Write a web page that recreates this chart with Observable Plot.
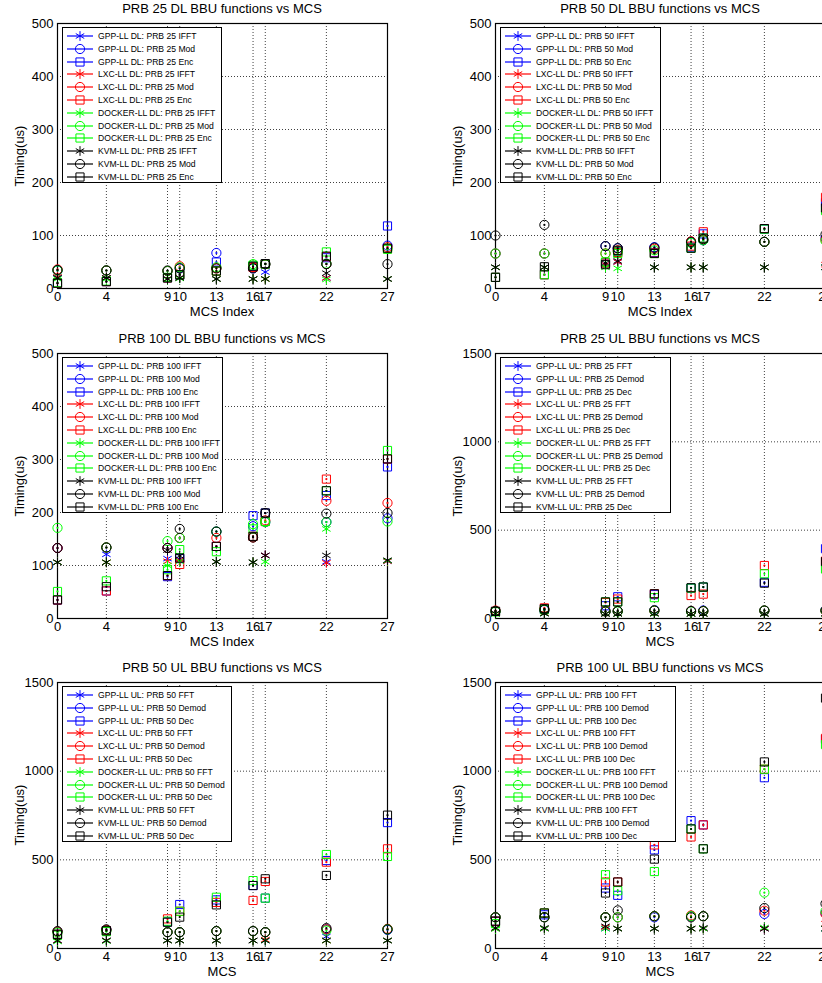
<!DOCTYPE html>
<html>
<head>
<meta charset="utf-8">
<script src="https://cdn.jsdelivr.net/npm/d3@7"></script>
<script src="https://cdn.jsdelivr.net/npm/@observablehq/plot@0.6"></script>
<style>
  html, body { margin: 0; padding: 0; background: #fff; overflow: hidden; }
  #root { position: relative; width: 822px; height: 983px; overflow: hidden; background: #fff;
          font-family: "Liberation Sans", Arial, Helvetica, sans-serif; color: #000; }
  .abs { position: absolute; white-space: nowrap; }
  .legend { position: absolute; border: 1px solid #000; background: #fff; box-sizing: border-box; }
  .lrow { position: absolute; left: 4px; display: flex; align-items: center; height: 12px; font-size: 8.6px; white-space: nowrap; }
  .lrow svg { width: 26px; height: 12px; margin-right: 5px; overflow: visible; flex: none; }
</style>
</head>
<body>
<div id="root"></div>
<script>
// ---------- data ----------
const mcs = [0, 4, 9, 10, 13, 16, 17, 22, 27];
const platforms = ["GPP", "LXC", "DOCKER", "KVM"];
const platformColors = ["#0000ff", "#ff0000", "#00ff00", "#000000"];
const dlFunctions = ["IFFT", "Mod", "Enc"];
const ulFunctions = ["FFT", "Demod", "Dec"];
const dlTicks = [0, 100, 200, 300, 400, 500];
const ulTicks = [0, 500, 1000, 1500];

// rows: GPP, LXC, DOCKER, KVM ; columns follow mcs
const dl25_ifft = [[20,20,18,20,18,18,31,20,18],[22,20,18,20,18,18,18,20,18],[18,18,17,19,18,18,18,17,18],[20,20,18,20,18,18,18,29,18]];
const dl25_mod  = [[34,34,33,38,67,38,46,46,81],[36,34,33,42,38,40,46,46,78],[34,34,33,40,40,46,46,47,75],[35,34,34,38,38,38,46,46,46]];
const dl25_enc  = [[10,13,20,25,50,42,46,58,118],[10,13,20,26,33,40,46,60,75],[11,14,21,26,33,44,46,69,74],[10,13,20,26,33,42,47,61,76]];

const dl50_ifft = [[40,40,45,50,40,40,40,40,40],[40,40,45,50,40,40,40,40,45],[40,40,40,38,40,40,40,40,40],[40,40,48,52,40,40,40,40,40]];
const dl50_mod  = [[66,66,80,76,78,87,91,88,95],[66,66,66,72,75,89,93,88,92],[66,66,66,70,72,86,91,88,90],[100,120,80,76,77,88,93,88,102]];
const dl50_enc  = [[21,26,48,70,68,78,103,112,162],[21,26,48,68,67,80,107,113,172],[21,26,50,66,66,76,95,112,147],[21,41,45,72,66,76,95,113,152]];

const dl100_ifft = [[106,121,113,112,107,106,119,107,108],[106,106,108,110,107,106,119,105,108],[106,106,100,108,107,106,107,169,109],[106,106,129,118,107,106,119,119,110]];
const dl100_mod  = [[133,134,133,152,164,174,182,182,189],[133,134,133,152,152,153,185,222,218],[171,134,146,152,164,178,182,182,183],[133,134,133,169,164,153,199,198,199]];
const dl100_enc  = [[35,52,79,113,136,194,199,232,286],[35,52,81,102,136,155,183,263,301],[51,71,92,130,126,169,183,241,317],[35,60,81,114,136,155,199,241,301]];

const ul25_fft   = [[28,28,26,26,28,26,26,26,28],[28,30,26,26,28,26,26,26,28],[26,28,26,26,26,26,26,26,26],[28,28,26,26,28,26,26,26,28]];
const ul25_demod = [[42,48,40,42,48,42,45,45,48],[45,55,40,42,45,42,42,45,45],[40,50,40,40,45,40,42,45,45],[42,50,40,42,45,42,42,45,45]];
const ul25_dec   = [[40,52,72,123,135,172,178,205,395],[40,60,90,110,140,130,138,300,325],[38,50,94,94,118,172,178,253,280],[40,55,94,94,140,174,178,200,322]];

const ul50_fft   = [[45,45,45,45,45,45,45,68,45],[45,45,45,45,45,45,50,45,45],[40,42,45,45,45,45,45,45,45],[45,45,45,45,45,45,45,45,45]];
const ul50_demod = [[95,105,92,92,98,98,92,108,105],[95,105,92,92,98,98,92,108,111],[90,100,92,92,98,98,92,101,108],[98,108,92,92,98,98,92,115,108]];
const ul50_dec   = [[80,100,150,248,274,355,284,496,710],[80,100,167,210,260,271,378,487,562],[75,95,154,210,289,383,284,530,519],[80,100,148,177,246,355,393,412,752]];

const ul100_fft   = [[112,112,112,112,112,112,112,112,112],[112,112,120,112,112,112,112,112,140],[110,112,112,112,112,112,112,118,112],[116,116,125,112,112,112,116,112,112]];
const ul100_demod = [[176,176,176,176,176,182,182,195,200],[176,176,176,176,182,186,182,213,195],[176,176,176,176,182,182,182,315,210],[176,176,176,215,182,176,182,228,253]];
const ul100_dec   = [[154,190,341,300,556,721,697,963,1180],[154,200,375,375,584,629,697,1011,1185],[140,200,416,326,434,674,562,1011,1150],[154,200,313,375,504,674,562,1052,1412]];

// ---------- layout ----------
const FONT = '"Liberation Sans", Arial, Helvetica, sans-serif';
const frameLefts = [57, 495];
const frameTops = [23, 353, 682];
const frameBottoms = [288, 618, 948];
const frameWidth = 330;
const symbols = ["asterisk", "circle", "square"];
const markerR = 4.6;

const panels = [
  {col: 0, row: 0, dir: "DL", prb: 25, funcs: dlFunctions, data: [dl25_ifft, dl25_mod, dl25_enc], ymax: 500, ticks: dlTicks, xlabel: "MCS Index", lw: 160},
  {col: 1, row: 0, dir: "DL", prb: 50, funcs: dlFunctions, data: [dl50_ifft, dl50_mod, dl50_enc], ymax: 500, ticks: dlTicks, xlabel: "MCS Index", lw: 161},
  {col: 0, row: 1, dir: "DL", prb: 100, funcs: dlFunctions, data: [dl100_ifft, dl100_mod, dl100_enc], ymax: 500, ticks: dlTicks, xlabel: "MCS Index", lw: 161},
  {col: 1, row: 1, dir: "UL", prb: 25, funcs: ulFunctions, data: [ul25_fft, ul25_demod, ul25_dec], ymax: 1500, ticks: ulTicks, xlabel: "MCS", lw: 171},
  {col: 0, row: 2, dir: "UL", prb: 50, funcs: ulFunctions, data: [ul50_fft, ul50_demod, ul50_dec], ymax: 1500, ticks: ulTicks, xlabel: "MCS", lw: 170},
  {col: 1, row: 2, dir: "UL", prb: 100, funcs: ulFunctions, data: [ul100_fft, ul100_demod, ul100_dec], ymax: 1500, ticks: ulTicks, xlabel: "MCS", lw: 176}
];

const root = document.getElementById("root");

function addDiv(cls, css, text) {
  const d = document.createElement("div");
  d.className = cls;
  Object.assign(d.style, css);
  if (text != null) d.textContent = text;
  root.appendChild(d);
  return d;
}

function symbolPath(name, r) {
  const t = {asterisk: d3.symbolAsterisk, circle: d3.symbolCircle, square: d3.symbolSquare}[name];
  return d3.symbol(t, Math.PI * r * r)();
}

for (const p of panels) {
  const fl = frameLefts[p.col], ft = frameTops[p.row], fb = frameBottoms[p.row];
  const fh = fb - ft;
  const mL = 57, mR = 23, mT = 20, mB = 30;

  const marks = [
    Plot.ruleX(mcs.filter(v => v > 0 && v < 27), {stroke: "#000", strokeOpacity: 0.75, strokeDasharray: "1,2"}),
    Plot.ruleY(p.ticks.filter(v => v > 0 && v < p.ymax), {stroke: "#000", strokeOpacity: 0.75, strokeDasharray: "1,2"}),
    Plot.frame({stroke: "#000", strokeWidth: 1.2})
  ];
  const legendItems = [];
  platforms.forEach((plat, pi) => {
    p.funcs.forEach((fn, fi) => {
      const vals = p.data[fi][pi];
      const rows = mcs.map((m, i) => ({x: m, y: vals[i]}));
      marks.push(Plot.dot(rows, {x: "x", y: "y", symbol: symbols[fi], r: markerR, stroke: platformColors[pi], fill: "none", strokeWidth: 1}));
      if (fi > 0) marks.push(Plot.dot(rows, {x: "x", y: "y", r: 1.1, fill: platformColors[pi], stroke: "none"}));
      legendItems.push({label: `${plat}-LL ${p.dir}: PRB ${p.prb} ${fn}`, color: platformColors[pi], symbol: symbols[fi]});
    });
  });

  const chart = Plot.plot({
    width: mL + frameWidth + mR,
    height: mT + fh + mB,
    marginLeft: mL, marginRight: mR, marginTop: mT, marginBottom: mB,
    x: {domain: [0, 27], ticks: mcs, tickFormat: d => String(d), tickSize: 0, tickPadding: 3, label: null},
    y: {domain: [0, p.ymax], ticks: p.ticks, tickFormat: d => String(d), tickSize: 0, tickPadding: 4, label: null},
    style: {fontFamily: FONT, fontSize: "13px", color: "#000", background: "transparent", overflow: "visible"},
    marks
  });
  chart.style.position = "absolute";
  chart.style.left = (fl - mL) + "px";
  chart.style.top = (ft - mT) + "px";
  chart.style.maxWidth = "none";
  root.appendChild(chart);

  // title
  addDiv("abs", {left: fl + "px", width: frameWidth + "px", top: (ft - 14 - 7) + "px", lineHeight: "14px",
    fontSize: "13px", textAlign: "center"}, `PRB ${p.prb} ${p.dir} BBU functions vs MCS`);
  // x label
  addDiv("abs", {left: fl + "px", width: frameWidth + "px", top: (fb + 24 - 7) + "px", lineHeight: "14px",
    fontSize: "13px", textAlign: "center"}, p.xlabel);
  // y label
  addDiv("abs", {left: (fl - 37) + "px", top: ((ft + fb) / 2) + "px", lineHeight: "14px", fontSize: "13px",
    transform: "translate(-50%,-50%) rotate(-90deg)"}, "Timing(us)");

  // legend
  const lg = addDiv("legend", {left: (fl + 5) + "px", top: (ft + 4) + "px", width: p.lw + "px", height: "156px"});
  legendItems.forEach((it, k) => {
    const row = document.createElement("div");
    row.className = "lrow";
    row.style.top = (9 - 6 - 1 + k * 12.8) + "px";
    const svg = d3.create("svg").attr("viewBox", "0 0 26 12");
    svg.append("line").attr("x1", 0).attr("x2", 26).attr("y1", 6).attr("y2", 6).attr("stroke", it.color).attr("stroke-width", 1.2);
    svg.append("path").attr("d", symbolPath(it.symbol, markerR)).attr("transform", "translate(13,6)")
      .attr("fill", "none").attr("stroke", it.color).attr("stroke-width", 1);
    row.appendChild(svg.node());
    const span = document.createElement("span");
    span.textContent = it.label;
    row.appendChild(span);
    lg.appendChild(row);
  });
}
</script>
</body>
</html>
